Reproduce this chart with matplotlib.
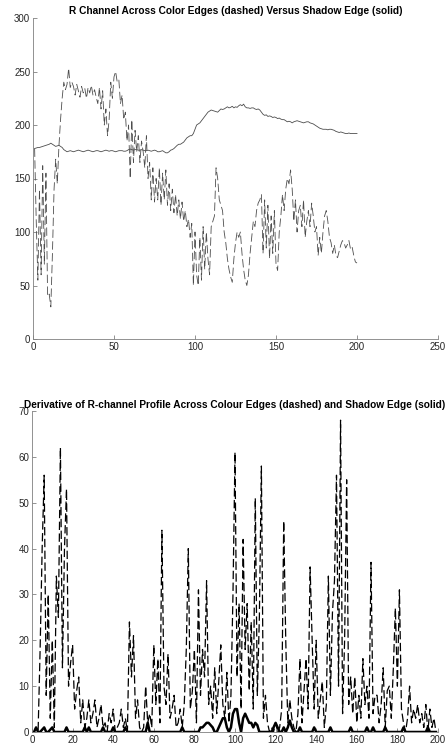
import numpy as np
import matplotlib
matplotlib.use("Agg")
import matplotlib.pyplot as plt

plt.rcParams['font.family'] = ['Liberation Sans', 'DejaVu Sans']
plt.rcParams['lines.scale_dashes'] = False

# ---------------- data ----------------
color_edge_r = [
    178, 110, 55, 140, 60, 162, 70, 155, 40, 42,
    30, 80, 140, 168, 145, 180, 205, 225, 240, 233,
    238, 253, 235, 240, 236, 228, 238, 232, 226, 236,
    230, 234, 225, 235, 230, 237, 228, 233, 226, 220,
    235, 215, 232, 200, 215, 190, 205, 240, 225, 245,
    250, 240, 242, 220, 228, 205, 212, 185, 200, 150,
    205, 165, 195, 175, 190, 165, 185, 175, 160, 190,
    150, 165, 130, 160, 128, 150, 130, 160, 125, 155,
    130, 158, 125, 145, 120, 140, 118, 135, 115, 130,
    112, 128, 110, 120, 105, 112, 95, 108, 50, 100,
    60, 50, 95, 55, 105, 65, 100, 75, 60, 105,
    110, 115, 160, 150, 130, 125, 120, 100, 90, 75,
    65, 58, 53, 75, 90, 100, 95, 100, 80, 65,
    55, 50, 60, 80, 95, 110, 105, 120, 127, 130,
    135, 80, 130, 85, 125, 75, 115, 80, 120, 70,
    64, 100, 115, 135, 120, 140, 150, 145, 158, 140,
    110, 130, 100, 120, 125, 105, 130, 95, 110, 120,
    105, 127, 115, 100, 105, 78, 95, 80, 100, 115,
    120, 110, 95, 90, 80, 88, 78, 76, 82, 88,
    92, 90, 85, 88, 92, 84, 86, 78, 72, 71,
]

shadow_edge_r = [
    178, 178.5, 179, 179, 179.5, 180, 180.5, 181, 181.5, 182,
    183, 182, 181, 180, 180.5, 181, 180, 179, 177, 176,
    175, 175.5, 176, 175.5, 175, 175.5, 176, 176.5, 176, 175.5,
    175, 175.5, 176, 176.5, 176, 175.5, 175, 175.5, 176, 176,
    175.5, 175, 175.5, 176, 176.5, 176, 175.5, 176, 176, 175.5,
    175, 175.5, 176, 176, 176, 175.5, 175.5, 176, 177, 177.5,
    177, 176.5, 177, 177, 176.5, 176.5, 177, 176.5, 176, 176,
    176.5, 176, 175.5, 176, 176.5, 176, 175, 175, 175.5, 176,
    175, 174, 174, 175, 176.5, 177, 178, 179.5, 181, 182,
    182, 183, 184, 186, 188, 189, 190, 190, 192, 196,
    200, 201, 202, 204, 206, 208, 210, 212, 213, 214,
    213.5, 213, 212.5, 212, 213.5, 215, 214.5, 215, 216, 217,
    216, 216.5, 217.5, 216, 217, 216.5, 218, 219, 218, 219.5,
    217, 216, 216, 215.5, 216, 216, 215, 214.5, 215, 214,
    212, 210, 209, 209.5, 208, 208.5, 208, 207, 207.5, 207,
    206, 206.5, 205.5, 205, 205, 204, 203, 203.5, 203, 202,
    203, 203.5, 204, 203.5, 203, 202.5, 202, 202.5, 203, 203,
    202, 201.5, 201, 200, 199, 198, 197, 196.5, 196, 196,
    196, 195.5, 196, 196, 195.5, 195, 194, 193.5, 193, 193.5,
    193, 192.5, 192, 192, 192.5, 192, 192, 192, 192, 192,
]

color_edge_deriv = [
    0, 1, 0, 18, 40, 56, 8, 30, 3, 20,
    1, 34, 25, 62, 14, 40, 53, 10, 15, 19,
    5, 9, 12, 2, 7, 1, 3, 7, 2, 4,
    7, 1, 3, 6, 1, 2, 0, 4, 2, 5,
    0, 1, 2, 5, 1, 3, 0, 24, 12, 21,
    3, 7, 1, 0, 1, 10, 2, 4, 1, 19,
    6, 16, 2, 44, 10, 6, 17, 3, 5, 8,
    1, 2, 5, 1, 6, 18, 40, 5, 9, 18,
    2, 31, 8, 18, 12, 33, 6, 10, 3, 14,
    4, 11, 19, 6, 3, 13, 2, 8, 30, 61,
    12, 28, 5, 42, 18, 28, 9, 24, 5, 51,
    8, 25, 58, 3, 8, 2, 0, 1, 0, 2,
    0, 1, 5, 46, 20, 2, 7, 3, 1, 0,
    4, 16, 2, 9, 16, 5, 36, 20, 5, 20,
    3, 7, 11, 1, 6, 34, 8, 26, 33, 56,
    10, 68, 4, 20, 55, 6, 12, 4, 12, 2,
    8, 3, 16, 6, 10, 3, 37, 4, 8, 8,
    2, 6, 14, 1, 9, 10, 3, 14, 27, 10,
    31, 5, 2, 0, 3, 10, 2, 5, 3, 6,
    2, 4, 1, 6, 0, 5, 1, 3, 0,
]

shadow_edge_deriv = [
    0, 1, 0, 0, 0.5, 1, 0, 0, 0.5, 1,
    0, 0, 0, 0, 0, 0, 1, 0, 0, 0,
    0, 0, 0, 0, 0, 1, 0, 1, 0, 0,
    0, 0, 0, 0, 1, 0, 0, 0, 0, 1,
    0, 0, 0, 0, 0, 1, 0, 0, 0, 0,
    0, 0, 0, 0, 0, 0, 2, 0, 0, 0,
    0, 0, 0, 0, 0, 0, 0, 0, 0, 0,
    0, 0, 0, 1, 0, 0, 0, 0, 0, 0,
    0, 0, 1, 1, 1.5, 2, 2, 1.5, 1, 0,
    0, 1, 2, 3, 3, 1, 0, 1, 4, 5,
    5, 2, 0, 3, 4, 3, 2, 2, 1, 2,
    1.5, 0, 0, 0, 0, 0, 0, 0, 1, 2,
    1, 0, 0, 1, 0, 1, 2.5, 1, 0, 0,
    0, 1, 0, 0, 0, 0, 0, 0, 1, 0,
    0, 0, 0, 0, 0, 0, 1, 0, 0, 0,
    0, 0, 0, 0, 0, 0, 1, 0, 0, 0,
    0, 0, 0, 0, 1, 0, 0, 1, 0, 0,
    0, 0, 0, 1, 0, 0, 0, 0, 0, 0,
    0, 0, 1, 0, 0, 0, 0, 0, 0, 0,
    0, 0, 0, 0, 1, 0, 0, 0, 0,
]

x_profile = np.arange(1, len(color_edge_r) + 1)
x_deriv = np.arange(1, len(color_edge_deriv) + 1)

# ---------------- figure ----------------
fig = plt.figure(figsize=(4.47, 7.46), dpi=100)
ax_col = '#262626'

def style(ax):
    ax.spines['top'].set_visible(False)
    ax.spines['right'].set_visible(False)
    for s in ('left', 'bottom'):
        ax.spines[s].set_color('#808080')
        ax.spines[s].set_linewidth(0.6)
    ax.tick_params(direction='in', length=3, width=0.6, colors='#808080',
                   labelcolor=ax_col, labelsize=7, pad=2)

ax1 = fig.add_axes([33/447, 1-339/746, (438-33)/447, (339-18)/746])
ax1.plot(x_profile, color_edge_r, color='0.3', lw=0.6, dashes=(6, 2.5))
ax1.plot(x_profile, shadow_edge_r, color='0.3', lw=0.6)
ax1.set_xlim(0, 250)
ax1.set_ylim(0, 300)
ax1.set_xticks(np.arange(0, 251, 50))
ax1.set_yticks(np.arange(0, 301, 50))
style(ax1)
ax1.set_title('R Channel Across Color Edges (dashed) Versus Shadow Edge (solid)',
              fontsize=7.3, fontweight='bold', color='black', pad=3)

ax2 = fig.add_axes([32/447, 1-732/746, (438-32)/447, (732-411)/746])
ax2.plot(x_deriv, color_edge_deriv, color='black', lw=0.9, dashes=(6, 2.5))
ax2.plot(x_deriv, shadow_edge_deriv, color='black', lw=1.8)
ax2.set_xlim(0, 200)
ax2.set_ylim(0, 70)
ax2.set_xticks(np.arange(0, 201, 20))
ax2.set_yticks(np.arange(0, 71, 10))
style(ax2)
ax2.set_title('Derivative of R-channel Profile Across Colour Edges (dashed) and Shadow Edge (solid)',
              fontsize=7.3, fontweight='bold', color='black', pad=2)

fig.savefig('out.png', dpi=100)
